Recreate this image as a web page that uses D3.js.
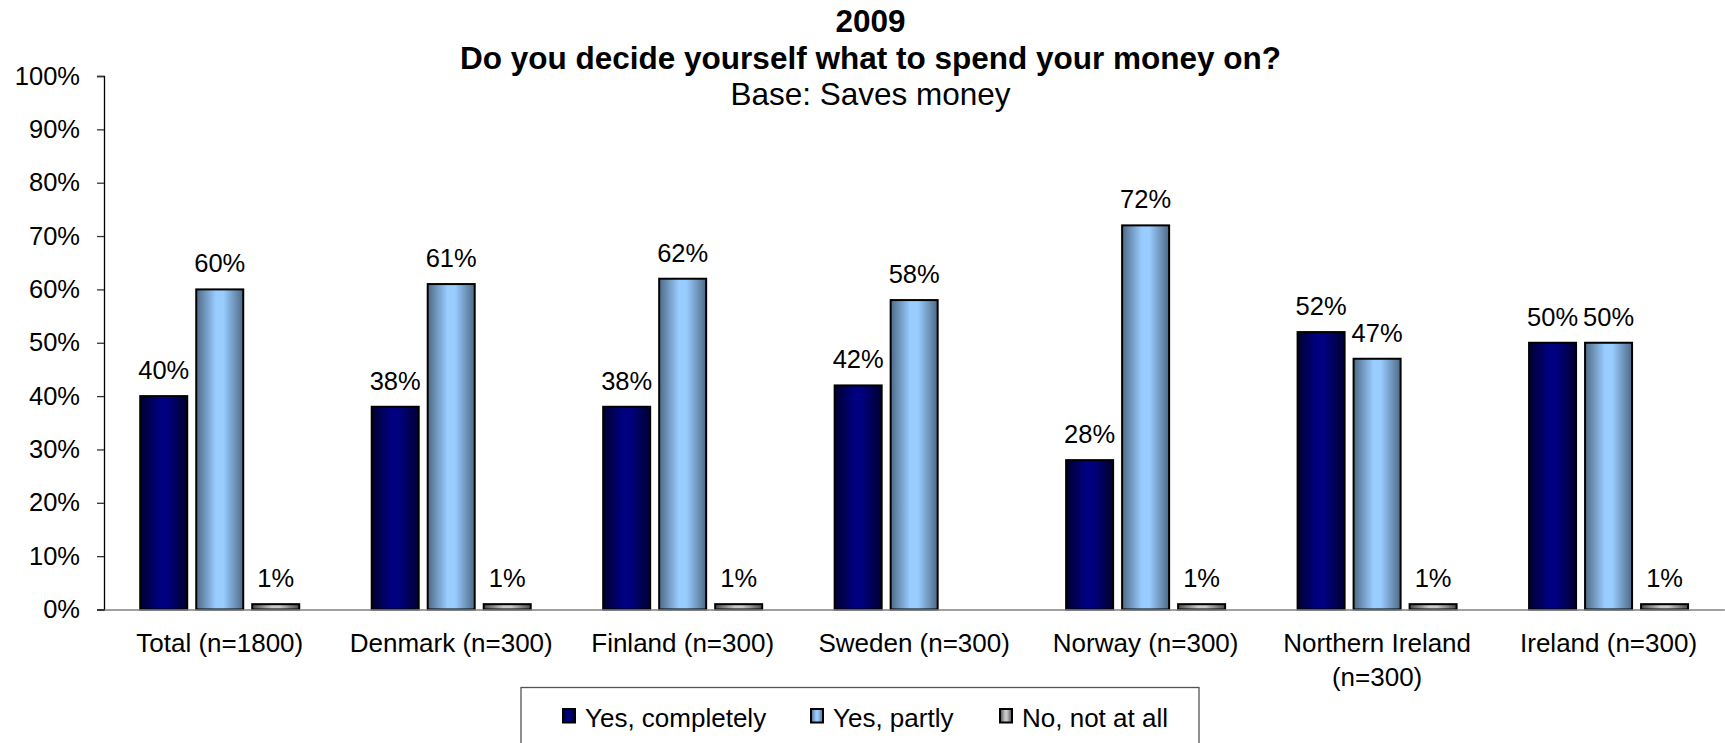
<!DOCTYPE html>
<html>
<head>
<meta charset="utf-8">
<script src="https://cdn.jsdelivr.net/npm/d3@7"></script>
<style>
  html, body { margin: 0; padding: 0; background: #ffffff; }
  svg { display: block; font-family: "Liberation Sans", Arial, Helvetica, sans-serif; }
</style>
</head>
<body>
<svg id="chart" width="1725" height="743"></svg>
<script>
// Survey results, share of respondents (percent)
const categories = [
  "Total (n=1800)",
  "Denmark (n=300)",
  "Finland (n=300)",
  "Sweden (n=300)",
  "Norway (n=300)",
  "Northern Ireland (n=300)",
  "Ireland (n=300)"
];
const seriesNames = ["Yes, completely", "Yes, partly", "No, not at all"];
const yesCompletely = [40, 38, 38, 42, 28, 52, 50];
const yesPartly     = [60, 61, 62, 58, 72, 47, 50];
const notAtAll      = [1, 1, 1, null, 1, 1, 1];
const yTicks = [0, 10, 20, 30, 40, 50, 60, 70, 80, 90, 100];
const titleLines = ["2009", "Do you decide yourself what to spend your money on?", "Base: Saves money"];

const seriesValues = [yesCompletely, yesPartly, notAtAll];
const seriesColors = [
  { edge: "#000030", mid: "#000080" },
  { edge: "#4e6a86", mid: "#99ccff" },
  { edge: "#4a4a4a", mid: "#c8c8c8" }
];

const svg = d3.select("#chart");
const defs = svg.append("defs");

// Horizontal shading: darker at both edges, light in the middle
seriesColors.forEach((c, i) => {
  const g = defs.append("linearGradient")
    .attr("id", "grad" + i)
    .attr("x1", "0%").attr("x2", "100%").attr("y1", "0%").attr("y2", "0%");
  g.append("stop").attr("offset", "0%").attr("stop-color", c.edge);
  g.append("stop").attr("offset", "42%").attr("stop-color", c.mid);
  g.append("stop").attr("offset", "58%").attr("stop-color", c.mid);
  g.append("stop").attr("offset", "100%").attr("stop-color", c.edge);
});

const plot = { left: 104, right: 1724.3, top: 76, bottom: 609.5 };

const x = d3.scaleBand()
  .domain(categories)
  .range([plot.left, plot.right])
  .paddingInner(0).paddingOuter(0);

const xSeries = d3.scaleBand()
  .domain(d3.range(seriesNames.length))
  .range([-80.5, 80.5])
  .paddingInner(0.125).paddingOuter(0);

const y = d3.scaleLinear().domain([0, 100]).range([plot.bottom, plot.top]);

// Title
const title = svg.append("g").attr("text-anchor", "middle").attr("fill", "#000");
const titleBaselines = [32, 69, 105];
titleLines.forEach((t, i) => {
  title.append("text")
    .attr("x", 870.5)
    .attr("y", titleBaselines[i])
    .attr("font-size", 31.5)
    .attr("font-weight", i < 2 ? "bold" : "normal")
    .text(t);
});

// Y axis
const yAxis = svg.append("g")
  .attr("transform", `translate(${plot.left},0)`)
  .call(d3.axisLeft(y).tickValues(yTicks).tickSize(7).tickPadding(17)
    .tickFormat(d => d + "%"));
yAxis.select(".domain").attr("stroke", "#000").attr("stroke-width", 1.3);
yAxis.selectAll(".tick line").attr("stroke", "#333").attr("stroke-width", 1.3);
yAxis.selectAll(".tick text")
  .attr("font-size", 25.5)
  .attr("fill", "#000")
  .attr("font-family", "Liberation Sans, Arial, sans-serif");

// Bars
const groups = svg.append("g").selectAll("g")
  .data(categories)
  .join("g")
  .attr("transform", d => `translate(${x(d) + x.bandwidth() / 2},0)`);

seriesValues.forEach((vals, si) => {
  groups.each(function (cat, ci) {
    const v = vals[ci];
    if (v == null) return;
    const g = d3.select(this);
    const bx = xSeries(si);
    const bw = xSeries.bandwidth();
    g.append("rect")
      .attr("x", bx + 1)
      .attr("y", y(v))
      .attr("width", bw - 2)
      .attr("height", y(0) - y(v))
      .attr("fill", `url(#grad${si})`)
      .attr("stroke", "#000")
      .attr("stroke-width", 2);
    g.append("text")
      .attr("x", bx + bw / 2)
      .attr("y", y(v) - 17)
      .attr("text-anchor", "middle")
      .attr("font-size", 25.5)
      .attr("fill", "#000")
      .text(v + "%");
  });
});

// Baseline (category axis)
const xAxis = svg.append("g")
  .attr("transform", `translate(0,${plot.bottom})`)
  .call(d3.axisBottom(x).tickSize(0).tickPadding(0));
xAxis.select(".domain").attr("stroke", "#808080").attr("stroke-width", 1.5);
xAxis.selectAll(".tick text").remove();

// Category labels, wrapped to the band width
const measure = svg.append("text").attr("font-size", 26).attr("visibility", "hidden");
function wrapLines(label, maxW) {
  const words = label.split(" ");
  const lines = [];
  let cur = "";
  words.forEach(w => {
    const test = cur ? cur + " " + w : w;
    measure.text(test);
    if (cur && measure.node().getComputedTextLength() > maxW) {
      lines.push(cur);
      cur = w;
    } else {
      cur = test;
    }
  });
  if (cur) lines.push(cur);
  return lines;
}
xAxis.selectAll(".tick").each(function (d) {
  const lines = wrapLines(d, x.bandwidth() - 6);
  const t = d3.select(this).append("text")
    .attr("text-anchor", "middle")
    .attr("font-size", 26)
    .attr("fill", "#000")
    .attr("font-family", "Liberation Sans, Arial, sans-serif");
  lines.forEach((ln, i) => {
    t.append("tspan").attr("x", 0).attr("y", 42.5 + i * 33.5).text(ln);
  });
});
measure.remove();

// Legend
const legend = svg.append("g");
legend.append("rect")
  .attr("x", 521).attr("y", 687.5)
  .attr("width", 678).attr("height", 80)
  .attr("fill", "#fff")
  .attr("stroke", "#555")
  .attr("stroke-width", 1.3);
const legendX = [562, 810, 999];
seriesNames.forEach((name, i) => {
  legend.append("rect")
    .attr("x", legendX[i] + 1).attr("y", 709)
    .attr("width", 12).attr("height", 13.5)
    .attr("fill", `url(#grad${i})`)
    .attr("stroke", "#000")
    .attr("stroke-width", 2);
  legend.append("text")
    .attr("x", legendX[i] + 23)
    .attr("y", 726.5)
    .attr("font-size", 26)
    .attr("fill", "#000")
    .text(name);
});
</script>
</body>
</html>
